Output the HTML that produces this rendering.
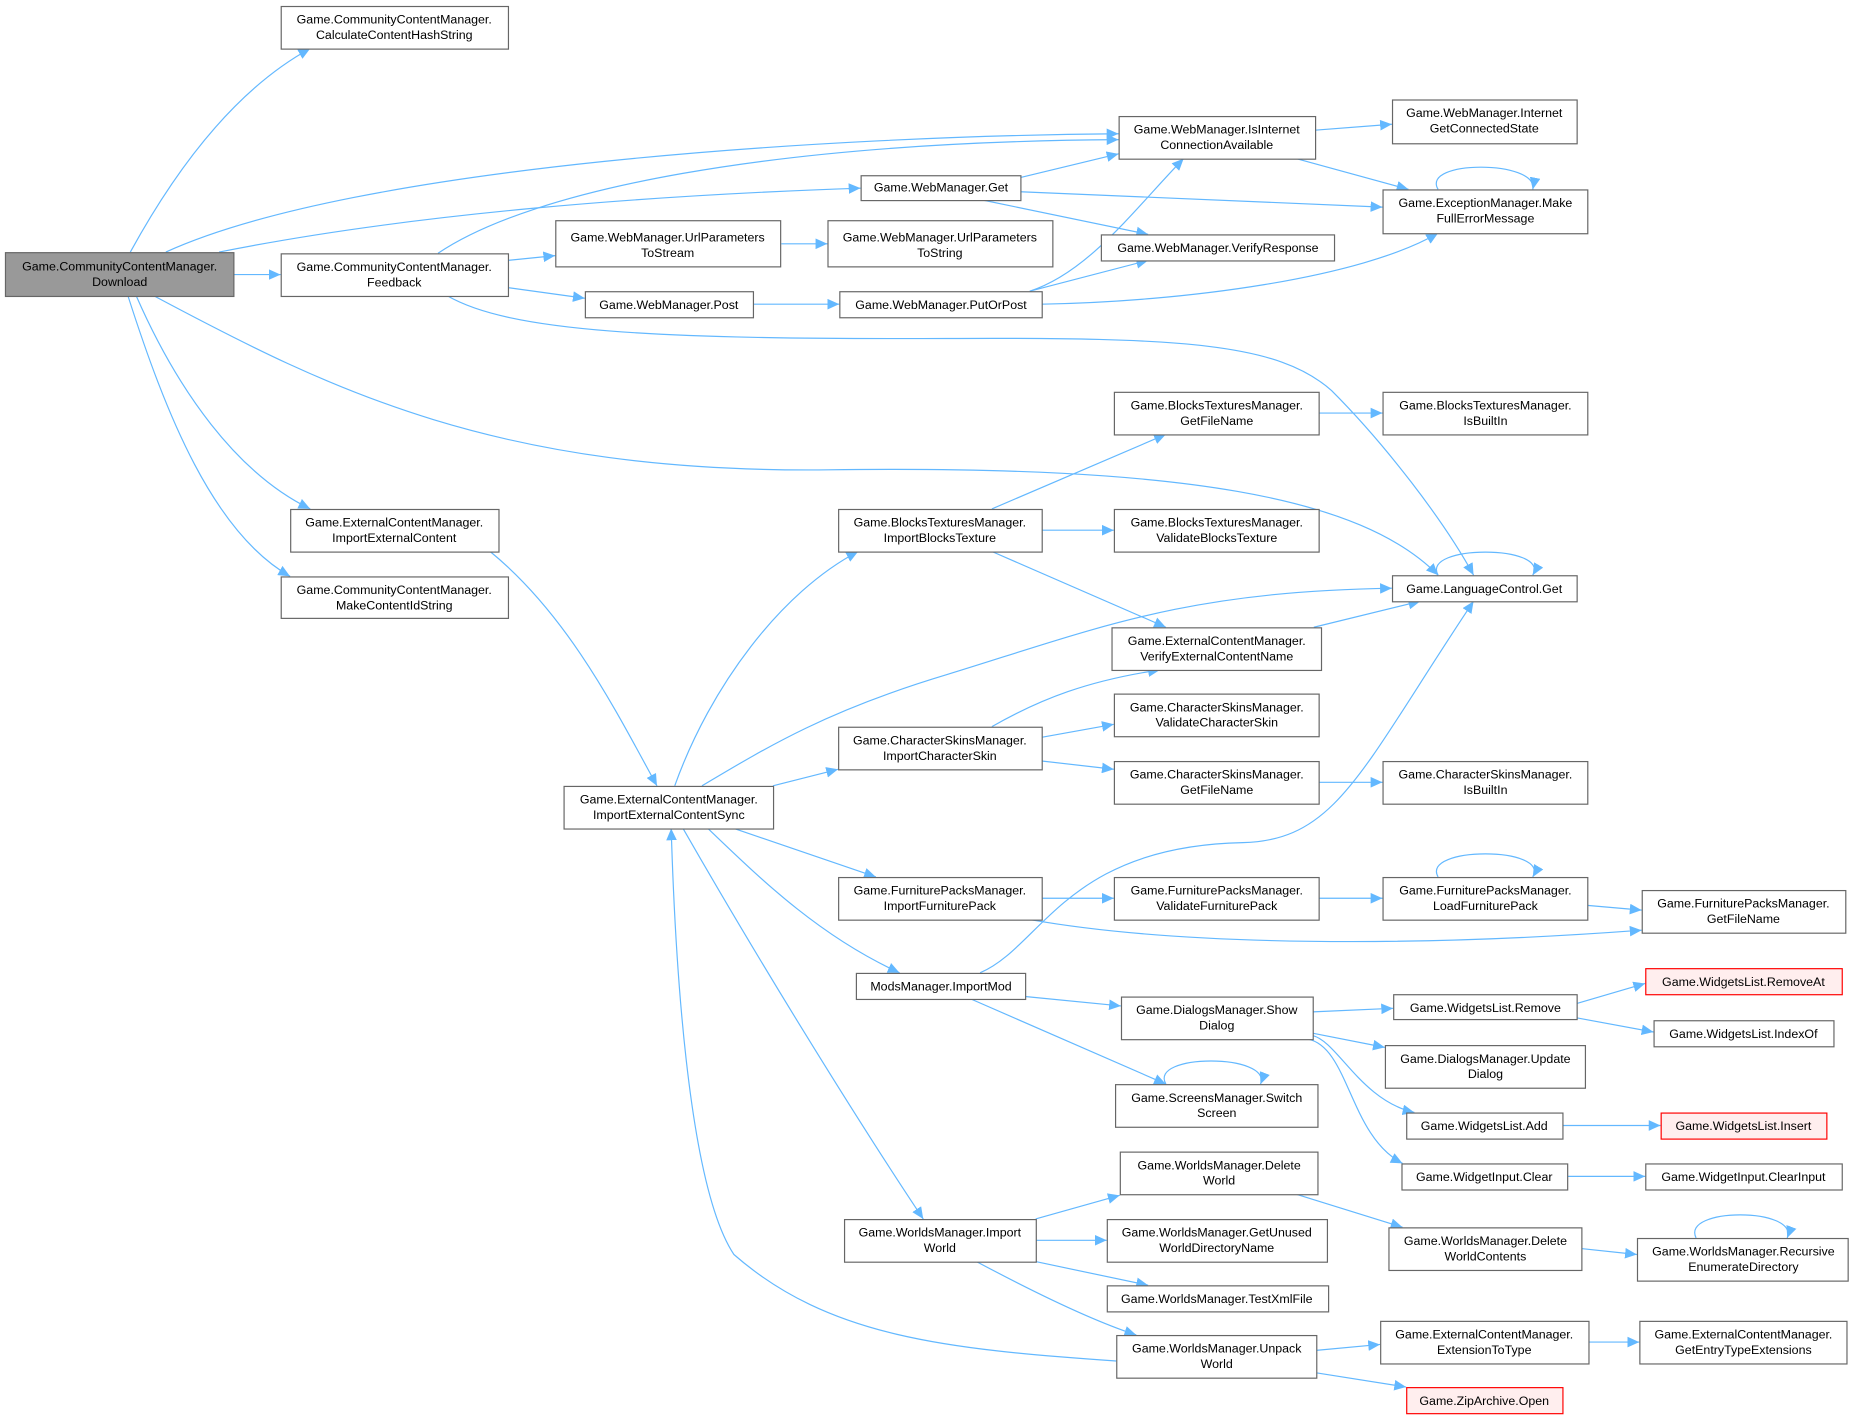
<!DOCTYPE html>
<html><head><meta charset="utf-8"><style>
html,body{margin:0;padding:0;background:#fff}
svg{display:block}
text{font-family:"Liberation Sans",sans-serif;font-size:10.5px;fill:#000;text-anchor:middle}
.n{fill:#fff;stroke:#666;stroke-width:1}
.g{fill:#999;stroke:#666;stroke-width:1}
.r{fill:#fee;stroke:#f00;stroke-width:1}
.e{fill:none;stroke:#63b8ff;stroke-width:1}
</style></head><body>
<svg width="1856" height="1419" viewBox="0 0 1568 1199" xmlns="http://www.w3.org/2000/svg">
<defs><marker id="a" markerUnits="userSpaceOnUse" markerWidth="11" markerHeight="9" refX="10" refY="4.5" orient="auto"><path d="M0,0 L10,4.5 L0,9 z" fill="#63b8ff"/></marker></defs>
<g class="edges">
<path class="e" marker-end="url(#a)" d="M110,213 C150,140 200,75 262,41"/>
<path class="e" marker-end="url(#a)" d="M140,213 C300,140 700,115 945,113"/>
<path class="e" marker-end="url(#a)" d="M185,213 C350,180 550,165 727,159"/>
<path class="e" marker-end="url(#a)" d="M197,232 L237,232"/>
<path class="e" marker-end="url(#a)" d="M130,250 C280,330 420,400 700,397 C1000,393 1150,420 1215,486"/>
<path class="e" marker-end="url(#a)" d="M115,250 C150,330 200,400 262,430"/>
<path class="e" marker-end="url(#a)" d="M108,250 C140,350 180,450 245,487"/>
<path class="e" marker-end="url(#a)" d="M370,214 C450,160 650,120 945,118"/>
<path class="e" marker-end="url(#a)" d="M429,220 L469,216"/>
<path class="e" marker-end="url(#a)" d="M429,243 L494,252"/>
<path class="e" marker-end="url(#a)" d="M378,250 C430,280 550,287 800,286 C1000,285 1080,290 1125,330 C1170,375 1220,440 1245,486"/>
<path class="e" marker-end="url(#a)" d="M862,150 L945,130"/>
<path class="e" marker-end="url(#a)" d="M862,162 L1168,175"/>
<path class="e" marker-end="url(#a)" d="M830,169 L970,198"/>
<path class="e" marker-end="url(#a)" d="M660,206 L699,206"/>
<path class="e" marker-end="url(#a)" d="M636,257 L709,257"/>
<path class="e" marker-end="url(#a)" d="M870,246 C920,230 960,175 1000,134"/>
<path class="e" marker-end="url(#a)" d="M870,246 L970,220"/>
<path class="e" marker-end="url(#a)" d="M880,257 C1000,255 1150,235 1215,197"/>
<path class="e" marker-end="url(#a)" d="M1111,110 L1176,105"/>
<path class="e" marker-end="url(#a)" d="M1095,134 L1190,160"/>
<path class="e" marker-end="url(#a)" d="M1215,160 C1200,135 1300,135 1295,160"/>
<path class="e" marker-end="url(#a)" d="M1114,349 L1168,349"/>
<path class="e" marker-end="url(#a)" d="M414,466 C480,520 520,600 555,664"/>
<path class="e" marker-end="url(#a)" d="M570,664 C600,580 660,500 725,466"/>
<path class="e" marker-end="url(#a)" d="M593,664 C650,630 700,600 800,570 C930,530 1000,500 1176,497"/>
<path class="e" marker-end="url(#a)" d="M653,664 L708,650"/>
<path class="e" marker-end="url(#a)" d="M620,700 L740,741"/>
<path class="e" marker-end="url(#a)" d="M598,700 C640,740 690,790 760,822"/>
<path class="e" marker-end="url(#a)" d="M577,700 C640,810 720,940 780,1030"/>
<path class="e" marker-end="url(#a)" d="M943,1150 C800,1140 700,1130 620,1060 C580,1000 570,800 567,700"/>
<path class="e" marker-end="url(#a)" d="M838,430 L985,367"/>
<path class="e" marker-end="url(#a)" d="M880,448 L941,448"/>
<path class="e" marker-end="url(#a)" d="M838,466 L985,530"/>
<path class="e" marker-end="url(#a)" d="M1110,530 L1200,508"/>
<path class="e" marker-end="url(#a)" d="M1215,486 C1200,460 1310,460 1295,486"/>
<path class="e" marker-end="url(#a)" d="M838,614 C880,590 920,575 980,566"/>
<path class="e" marker-end="url(#a)" d="M880,623 L941,612"/>
<path class="e" marker-end="url(#a)" d="M880,643 L941,650"/>
<path class="e" marker-end="url(#a)" d="M1114,661 L1168,661"/>
<path class="e" marker-end="url(#a)" d="M880,759 L941,759"/>
<path class="e" marker-end="url(#a)" d="M870,777 C1000,800 1200,800 1387,786"/>
<path class="e" marker-end="url(#a)" d="M1114,759 L1168,759"/>
<path class="e" marker-end="url(#a)" d="M1341,765 L1387,769"/>
<path class="e" marker-end="url(#a)" d="M1215,741 C1200,715 1310,715 1295,741"/>
<path class="e" marker-end="url(#a)" d="M828,822 C880,800 900,715 1050,712 C1130,710 1150,650 1245,508"/>
<path class="e" marker-end="url(#a)" d="M866,842 L947,850"/>
<path class="e" marker-end="url(#a)" d="M820,844 L985,916"/>
<path class="e" marker-end="url(#a)" d="M1109,855 L1177,852"/>
<path class="e" marker-end="url(#a)" d="M1109,873 L1170,885"/>
<path class="e" marker-end="url(#a)" d="M1109,875 C1130,880 1150,930 1195,940"/>
<path class="e" marker-end="url(#a)" d="M1105,878 C1140,885 1140,960 1185,983"/>
<path class="e" marker-end="url(#a)" d="M985,916 C970,890 1075,890 1065,916"/>
<path class="e" marker-end="url(#a)" d="M1332,848 L1390,831"/>
<path class="e" marker-end="url(#a)" d="M1332,860 L1397,872"/>
<path class="e" marker-end="url(#a)" d="M1320,951 L1403,951"/>
<path class="e" marker-end="url(#a)" d="M1324,994 L1390,994"/>
<path class="e" marker-end="url(#a)" d="M875,1030 L946,1010"/>
<path class="e" marker-end="url(#a)" d="M875,1048 L935,1048"/>
<path class="e" marker-end="url(#a)" d="M875,1066 L970,1086"/>
<path class="e" marker-end="url(#a)" d="M825,1066 C870,1090 920,1115 960,1128"/>
<path class="e" marker-end="url(#a)" d="M1095,1009 L1185,1037"/>
<path class="e" marker-end="url(#a)" d="M1336,1055 L1383,1060"/>
<path class="e" marker-end="url(#a)" d="M1433,1046 C1420,1020 1520,1020 1510,1046"/>
<path class="e" marker-end="url(#a)" d="M1112,1141 L1166,1136"/>
<path class="e" marker-end="url(#a)" d="M1112,1160 L1188,1172"/>
<path class="e" marker-end="url(#a)" d="M1342,1134 L1385,1134"/>
</g>
<g class="nodes">
<rect class="g" x="4.5" y="213.5" width="193" height="37"/><text x="101" y="228.5">Game.CommunityContentManager.</text><text x="101" y="241.5">Download</text>
<rect class="n" x="237.5" y="5.5" width="192" height="36"/><text x="333" y="20">Game.CommunityContentManager.</text><text x="333" y="33">CalculateContentHashString</text>
<rect class="n" x="237.5" y="214.5" width="192" height="36"/><text x="333" y="229">Game.CommunityContentManager.</text><text x="333" y="242">Feedback</text>
<rect class="n" x="245.5" y="430.5" width="176" height="36"/><text x="333" y="445">Game.ExternalContentManager.</text><text x="333" y="458">ImportExternalContent</text>
<rect class="n" x="237.5" y="487.5" width="192" height="35"/><text x="333" y="502">Game.CommunityContentManager.</text><text x="333" y="515">MakeContentIdString</text>
<rect class="n" x="469.5" y="186.5" width="190" height="39"/><text x="564" y="204">Game.WebManager.UrlParameters</text><text x="564" y="217">ToStream</text>
<rect class="n" x="494.5" y="246.5" width="142" height="22"/><text x="565" y="261">Game.WebManager.Post</text>
<rect class="n" x="727.5" y="148.5" width="135" height="21"/><text x="795" y="162">Game.WebManager.Get</text>
<rect class="n" x="699.5" y="186.5" width="190" height="39"/><text x="794" y="204">Game.WebManager.UrlParameters</text><text x="794" y="217">ToString</text>
<rect class="n" x="709.5" y="246.5" width="171" height="22"/><text x="795" y="261">Game.WebManager.PutOrPost</text>
<rect class="n" x="945.5" y="98.5" width="166" height="36"/><text x="1028" y="113">Game.WebManager.IsInternet</text><text x="1028" y="126">ConnectionAvailable</text>
<rect class="n" x="930.5" y="198.5" width="197" height="22"/><text x="1029" y="213">Game.WebManager.VerifyResponse</text>
<rect class="n" x="1176.5" y="84.5" width="156" height="37"/><text x="1254" y="99">Game.WebManager.Internet</text><text x="1254" y="112">GetConnectedState</text>
<rect class="n" x="1168.5" y="160.5" width="173" height="37"/><text x="1255" y="175">Game.ExceptionManager.Make</text><text x="1255" y="188">FullErrorMessage</text>
<rect class="n" x="941.5" y="331.5" width="173" height="36"/><text x="1028" y="346">Game.BlocksTexturesManager.</text><text x="1028" y="359">GetFileName</text>
<rect class="n" x="1168.5" y="331.5" width="173" height="36"/><text x="1255" y="346">Game.BlocksTexturesManager.</text><text x="1255" y="359">IsBuiltIn</text>
<rect class="n" x="708.5" y="430.5" width="172" height="36"/><text x="794" y="445">Game.BlocksTexturesManager.</text><text x="794" y="458">ImportBlocksTexture</text>
<rect class="n" x="941.5" y="430.5" width="173" height="36"/><text x="1028" y="445">Game.BlocksTexturesManager.</text><text x="1028" y="458">ValidateBlocksTexture</text>
<rect class="n" x="1176.5" y="486.5" width="156" height="22"/><text x="1254" y="501">Game.LanguageControl.Get</text>
<rect class="n" x="939.5" y="530.5" width="177" height="36"/><text x="1028" y="545">Game.ExternalContentManager.</text><text x="1028" y="558">VerifyExternalContentName</text>
<rect class="n" x="941.5" y="586.5" width="173" height="36"/><text x="1028" y="601">Game.CharacterSkinsManager.</text><text x="1028" y="614">ValidateCharacterSkin</text>
<rect class="n" x="708.5" y="614.5" width="172" height="36"/><text x="794" y="629">Game.CharacterSkinsManager.</text><text x="794" y="642">ImportCharacterSkin</text>
<rect class="n" x="941.5" y="643.5" width="173" height="36"/><text x="1028" y="658">Game.CharacterSkinsManager.</text><text x="1028" y="671">GetFileName</text>
<rect class="n" x="1168.5" y="643.5" width="173" height="36"/><text x="1255" y="658">Game.CharacterSkinsManager.</text><text x="1255" y="671">IsBuiltIn</text>
<rect class="n" x="476.5" y="664.5" width="177" height="36"/><text x="565" y="679">Game.ExternalContentManager.</text><text x="565" y="692">ImportExternalContentSync</text>
<rect class="n" x="708.5" y="741.5" width="172" height="36"/><text x="794" y="756">Game.FurniturePacksManager.</text><text x="794" y="769">ImportFurniturePack</text>
<rect class="n" x="941.5" y="741.5" width="173" height="36"/><text x="1028" y="756">Game.FurniturePacksManager.</text><text x="1028" y="769">ValidateFurniturePack</text>
<rect class="n" x="1168.5" y="741.5" width="173" height="36"/><text x="1255" y="756">Game.FurniturePacksManager.</text><text x="1255" y="769">LoadFurniturePack</text>
<rect class="n" x="1387.5" y="752.5" width="172" height="36"/><text x="1473" y="767">Game.FurniturePacksManager.</text><text x="1473" y="780">GetFileName</text>
<rect class="n" x="723.5" y="822.5" width="143" height="22"/><text x="795" y="837">ModsManager.ImportMod</text>
<rect class="n" x="947.5" y="842.5" width="162" height="36"/><text x="1028" y="857">Game.DialogsManager.Show</text><text x="1028" y="870">Dialog</text>
<rect class="n" x="1177.5" y="840.5" width="155" height="21"/><text x="1255" y="855">Game.WidgetsList.Remove</text>
<rect class="r" x="1390.5" y="818.5" width="166" height="22"/><text x="1473" y="833">Game.WidgetsList.RemoveAt</text>
<rect class="n" x="1397.5" y="862.5" width="152" height="22"/><text x="1473" y="877">Game.WidgetsList.IndexOf</text>
<rect class="n" x="1170.5" y="883.5" width="169" height="36"/><text x="1255" y="898">Game.DialogsManager.Update</text><text x="1255" y="911">Dialog</text>
<rect class="n" x="942.5" y="916.5" width="171" height="36"/><text x="1028" y="931">Game.ScreensManager.Switch</text><text x="1028" y="944">Screen</text>
<rect class="n" x="1188.5" y="940.5" width="132" height="22"/><text x="1254" y="955">Game.WidgetsList.Add</text>
<rect class="r" x="1403.5" y="940.5" width="140" height="22"/><text x="1473" y="955">Game.WidgetsList.Insert</text>
<rect class="n" x="1184.5" y="983.5" width="140" height="22"/><text x="1254" y="998">Game.WidgetInput.Clear</text>
<rect class="n" x="1390.5" y="983.5" width="166" height="22"/><text x="1473" y="998">Game.WidgetInput.ClearInput</text>
<rect class="n" x="946.5" y="973.5" width="167" height="36"/><text x="1030" y="988">Game.WorldsManager.Delete</text><text x="1030" y="1001">World</text>
<rect class="n" x="713.5" y="1030.5" width="162" height="36"/><text x="794" y="1045">Game.WorldsManager.Import</text><text x="794" y="1058">World</text>
<rect class="n" x="935.5" y="1030.5" width="186" height="36"/><text x="1028" y="1045">Game.WorldsManager.GetUnused</text><text x="1028" y="1058">WorldDirectoryName</text>
<rect class="n" x="1173.5" y="1037.5" width="163" height="36"/><text x="1255" y="1052">Game.WorldsManager.Delete</text><text x="1255" y="1065">WorldContents</text>
<rect class="n" x="1383.5" y="1046.5" width="178" height="36"/><text x="1473" y="1061">Game.WorldsManager.Recursive</text><text x="1473" y="1074">EnumerateDirectory</text>
<rect class="n" x="935.5" y="1086.5" width="187" height="22"/><text x="1028" y="1101">Game.WorldsManager.TestXmlFile</text>
<rect class="n" x="943.5" y="1128.5" width="169" height="36"/><text x="1028" y="1143">Game.WorldsManager.Unpack</text><text x="1028" y="1156">World</text>
<rect class="n" x="1166.5" y="1116.5" width="176" height="36"/><text x="1254" y="1131">Game.ExternalContentManager.</text><text x="1254" y="1144">ExtensionToType</text>
<rect class="n" x="1385.5" y="1116.5" width="175" height="36"/><text x="1473" y="1131">Game.ExternalContentManager.</text><text x="1473" y="1144">GetEntryTypeExtensions</text>
<rect class="r" x="1188.5" y="1172.5" width="132" height="22"/><text x="1254" y="1187">Game.ZipArchive.Open</text>
</g>
</svg>
</body></html>
